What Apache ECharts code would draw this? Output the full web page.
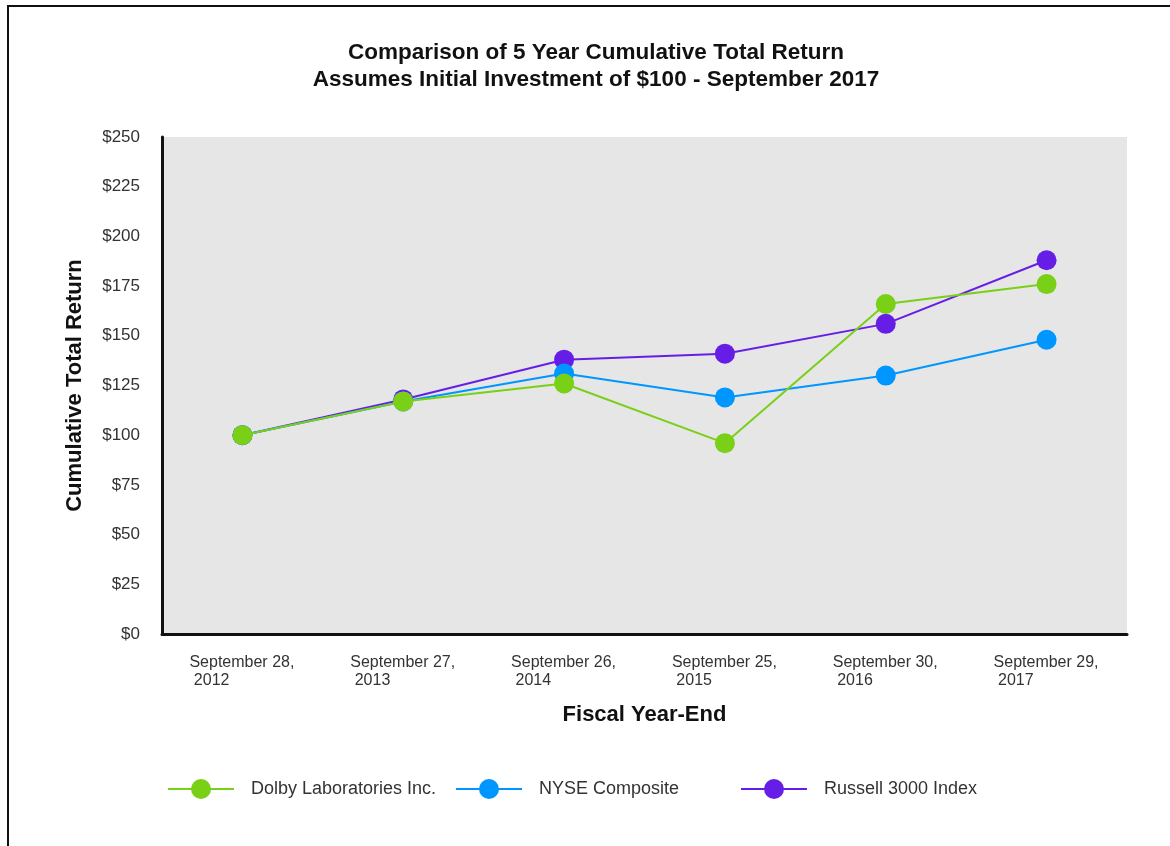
<!DOCTYPE html>
<html>
<head>
<meta charset="utf-8">
<script src="https://cdn.jsdelivr.net/npm/echarts@6/dist/echarts.min.js"></script>
<style>
  html, body { margin: 0; padding: 0; background: #fff; overflow: hidden; }
  #frame {
    position: absolute; left: 7px; top: 5px; width: 1200px; height: 900px;
    border-left: 2px solid #111; border-top: 2px solid #111;
  }
  #chart { position: absolute; left: 0; top: 0; width: 1170px; height: 846px; }
</style>
</head>
<body>
<div id="frame"></div>
<div id="chart"></div>
<script>
const years = [
  'September 28,\n2012', 'September 27,\n2013', 'September 26,\n2014',
  'September 25,\n2015', 'September 30,\n2016', 'September 29,\n2017'
]
const yTicks = [0, 25, 50, 75, 100, 125, 150, 175, 200, 225, 250]
const dolby = [100, 117, 126, 96, 166, 176]
const nyse = [100, 117, 131, 119, 130, 148]
const russell = [100, 118, 138, 141, 156, 188]

const font = 'Liberation Sans, Arial, sans-serif'
const colors = { dolby: '#7acf17', nyse: '#0096ff', russell: '#661ee6' }

const chart = echarts.init(document.getElementById('chart'))

function line (name, data, color, z) {
  return {
    name,
    type: 'line',
    data,
    z,
    symbol: 'circle',
    symbolSize: 20,
    lineStyle: { color, width: 2 },
    itemStyle: { color },
    emphasis: { disabled: true }
  }
}

function legend (name, left) {
  return {
    data: [name],
    left,
    top: 774,
    itemWidth: 66,
    itemHeight: 25,
    itemGap: 0,
    textStyle: { fontFamily: font, fontSize: 18, color: '#333', padding: [0, 0, 0, 12] }
  }
}

chart.setOption({
  animation: false,
  title: {
    text: 'Comparison of 5 Year Cumulative Total Return\nAssumes Initial Investment of $100 - September 2017',
    left: 591,
    top: 34,
    textAlign: 'center',
    textStyle: { fontFamily: font, fontSize: 22.5, fontWeight: 'bold', color: '#111', lineHeight: 27 }
  },
  legend: [
    legend('Dolby Laboratories Inc.', 162),
    legend('NYSE Composite', 450),
    legend('Russell 3000 Index', 735)
  ],
  grid: {
    left: 162, right: 43, top: 137, bottom: 212,
    show: true, backgroundColor: '#e6e6e6', borderWidth: 0
  },
  xAxis: {
    type: 'category',
    data: years,
    boundaryGap: true,
    name: 'Fiscal Year-End',
    nameLocation: 'middle',
    nameGap: 70,
    nameTextStyle: { fontFamily: font, fontSize: 22, fontWeight: 'bold', color: '#111' },
    axisLine: { lineStyle: { color: '#111', width: 3 } },
    axisTick: { show: false },
    axisLabel: {
      margin: 20,
      formatter: v => {
        const [a, b] = v.split('\n')
        return '{a|' + a + '}\n{a| ' + b + '}'
      },
      rich: {
        a: { fontFamily: font, fontSize: 16, color: '#333', width: 106, align: 'left', lineHeight: 18 }
      }
    },
    splitLine: { show: false }
  },
  yAxis: {
    type: 'value',
    min: 0,
    max: 250,
    interval: 25,
    name: 'Cumulative Total Return',
    nameLocation: 'middle',
    nameGap: 76,
    nameTextStyle: { fontFamily: font, fontSize: 22, fontWeight: 'bold', color: '#111' },
    axisLine: { show: true, lineStyle: { color: '#111', width: 3 } },
    axisTick: { show: false },
    axisLabel: {
      margin: 22,
      formatter: v => yTicks.includes(v) ? '$' + v : '',
      fontFamily: font, fontSize: 17, color: '#333'
    },
    splitLine: { show: false }
  },
  series: [
    line('Russell 3000 Index', russell, colors.russell, 2),
    line('NYSE Composite', nyse, colors.nyse, 3),
    line('Dolby Laboratories Inc.', dolby, colors.dolby, 4)
  ]
})
</script>
</body>
</html>
